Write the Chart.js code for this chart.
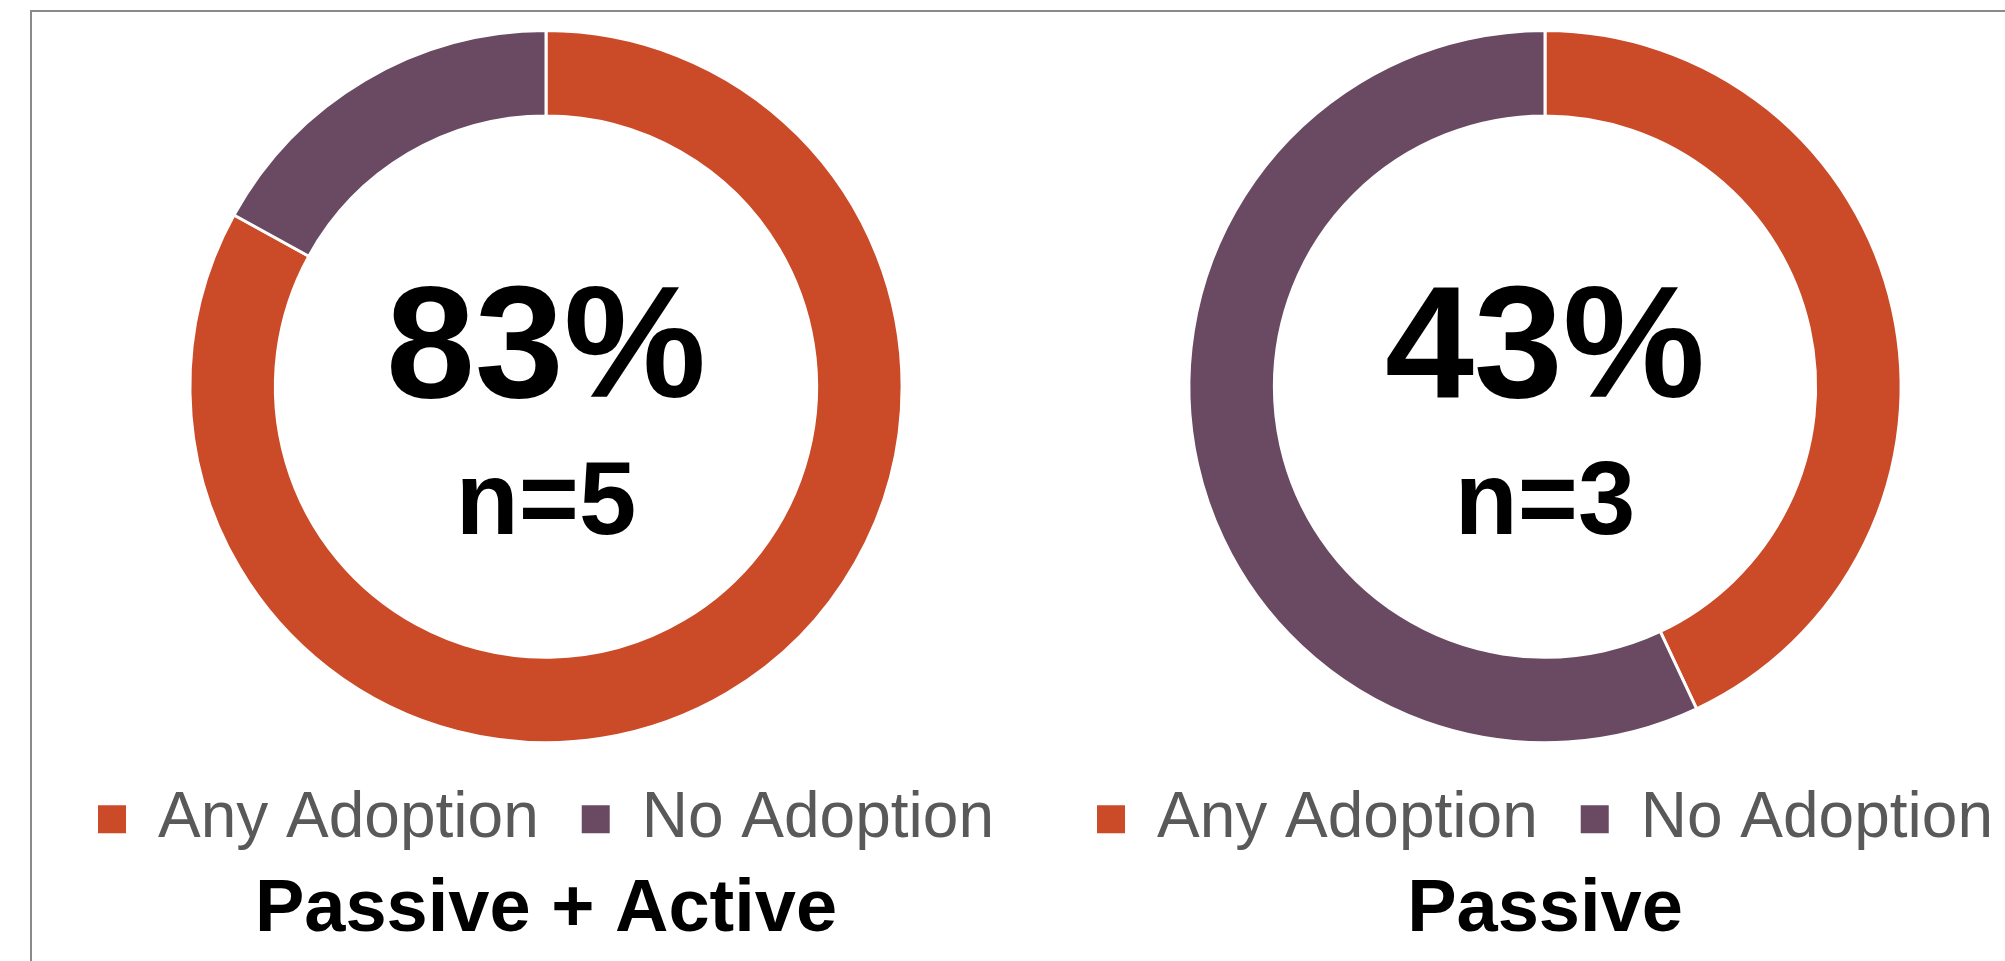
<!DOCTYPE html>
<html>
<head>
<meta charset="utf-8">
<script src="https://cdn.jsdelivr.net/npm/chart.js@4.4.0/dist/chart.umd.min.js"></script>
<style>
  html, body { margin: 0; padding: 0; background: #fff; overflow: hidden; }
  body { width: 2005px; height: 961px; position: relative; }
  .frame { position: absolute; left: 30px; top: 10px; right: -10px; bottom: -10px;
           border-left: 2px solid #8a8a8a; border-top: 2px solid #8a8a8a; }
  .wrap { position: absolute; top: 0; width: 1000px; height: 961px; }
</style>
</head>
<body>
<div class="frame"></div>
<div class="wrap" style="left:46px"><canvas id="graficoPassivoAtivo"></canvas></div>
<div class="wrap" style="left:1045px"><canvas id="graficoPassivo"></canvas></div>
<script>
var categorias = ["Any Adoption", "No Adoption"];
var grupos = ["Passive + Active", "Passive"];
var anyAdoption = [83, 43];
var noAdoption = [17, 57];
var amostras = [5, 3];
var cores = ["#CB4A28", "#6A4A62"];

// escreve o % e o n no meio da rosca
var textoCentro = {
  id: "textoCentro",
  afterDraw: function (chart, args, opts) {
    var arco = chart.getDatasetMeta(0).data[0];
    if (!arco) return;
    var ctx = chart.ctx;
    ctx.save();
    ctx.fillStyle = "#000";
    ctx.textAlign = "center";
    ctx.textBaseline = "alphabetic";
    ctx.font = "bold 160px 'Liberation Sans', Arial, sans-serif";
    ctx.fillText(opts.pct + "%", arco.x, arco.y + 10);
    ctx.font = "bold 103px 'Liberation Sans', Arial, sans-serif";
    ctx.fillText("n=" + opts.n, arco.x, arco.y + 147);
    ctx.restore();
  },
};

// quadradinho da legenda sem a borda branca das fatias
function legendaSemBorda(chart) {
  var itens = Chart.overrides.doughnut.plugins.legend.labels.generateLabels(chart);
  itens.forEach(function (item) {
    item.lineWidth = 0;
    item.strokeStyle = "rgba(0,0,0,0)";
  });
  return itens;
}

function criarGrafico(idCanvas, i) {
  const config = {
    type: "doughnut",
    data: {
      labels: categorias,
      datasets: [
        {
          data: [anyAdoption[i], noAdoption[i]],
          backgroundColor: cores,
          borderColor: "#ffffff",
          borderWidth: 3,
          hoverOffset: 0,
        },
      ],
    },
    options: {
      responsive: true,
      maintainAspectRatio: false,
      animation: false,
      cutout: "76%",
      layout: {
        padding: { top: 29, bottom: 0, left: 0, right: 0 },
      },
      plugins: {
        tooltip: { enabled: false },
        legend: {
          position: "bottom",
          labels: {
            color: "#595959",
            font: { family: "'Liberation Sans', Arial, sans-serif", size: 64 },
            boxWidth: 28,
            boxHeight: 28,
            padding: 43,
            generateLabels: legendaSemBorda,
          },
        },
        title: {
          display: true,
          position: "bottom",
          text: grupos[i],
          color: "#000",
          font: { family: "'Liberation Sans', Arial, sans-serif", size: 74, weight: "bold", lineHeight: 1.2 },
          padding: { top: 5, bottom: 6 },
        },
        textoCentro: { pct: anyAdoption[i], n: amostras[i] },
      },
    },
    plugins: [textoCentro],
  };
  return new Chart(document.getElementById(idCanvas), config);
}

criarGrafico("graficoPassivoAtivo", 0);
criarGrafico("graficoPassivo", 1);
</script>
</body>
</html>
